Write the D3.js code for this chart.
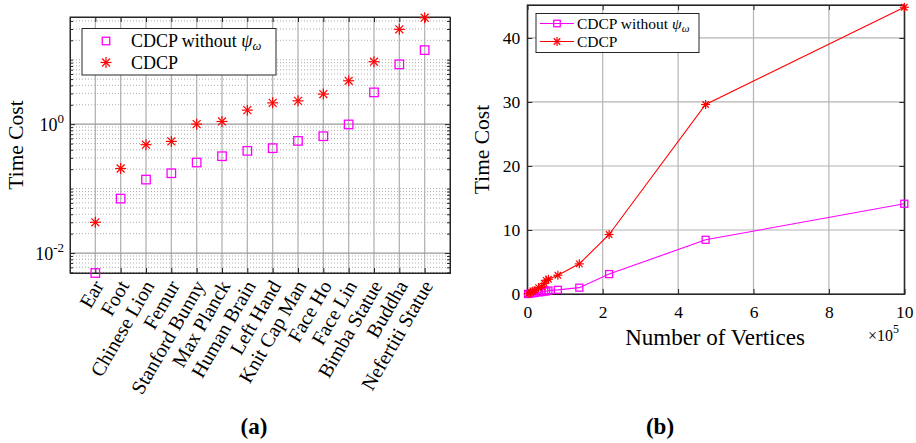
<!DOCTYPE html>
<html><head><meta charset="utf-8">
<script src="https://cdn.jsdelivr.net/npm/d3@7"></script>
<style>body{margin:0;background:#fff}svg{display:block}text{font-family:"Liberation Serif","DejaVu Serif",serif;fill:#000}</style>
</head><body><svg id="c" width="916" height="443"></svg>
<script>
const categories = ["Ear","Foot","Chinese Lion","Femur","Stanford Bunny","Max Planck","Human Brain","Left Hand","Knit Cap Man","Face Ho","Face Lin","Bimba Statue","Buddha","Nefertiti Statue"];
const cdcp = [0.030,0.205,0.48,0.54,1.0,1.10,1.65,2.14,2.30,2.93,4.71,9.3,29.6,44.8];
const cdcpNoPsi = [0.0049,0.070,0.138,0.173,0.254,0.318,0.385,0.424,0.55,0.65,0.99,3.11,8.47,14.1];
const vertices = [0.02,0.08,0.15,0.20,0.30,0.38,0.45,0.50,0.56,0.81,1.38,2.17,4.73,10.0]; // x 10^5
const leftYTicks = [0.01, 1];
const rightYTicks = [0,10,20,30,40];
const rightXTicks = [0,2,4,6,8,10];

const svg = d3.select("#c");
const AX = "#262626", GRID = "#b4b4b4";
const RED = "#ff0000", MAG = "#ff00ff";

function star(g, x, y, r, col){
  const p = g.append("g").attr("stroke", col).attr("stroke-width", 1.2);
  p.append("line").attr("x1",x-r).attr("x2",x+r).attr("y1",y).attr("y2",y);
  p.append("line").attr("x1",x).attr("x2",x).attr("y1",y-r).attr("y2",y+r);
  const d = r*0.72;
  p.append("line").attr("x1",x-d).attr("x2",x+d).attr("y1",y-d).attr("y2",y+d);
  p.append("line").attr("x1",x-d).attr("x2",x+d).attr("y1",y+d).attr("y2",y-d);
}
function square(g, x, y, s, col){
  g.append("rect").attr("x",x-s/2).attr("y",y-s/2).attr("width",s).attr("height",s)
   .attr("fill","none").attr("stroke",col).attr("stroke-width",1.3);
}

// ---------------- Left chart (a) ----------------
const L = {x0:70, x1:450, y0:17, y1:273};
const xL = d3.scaleLinear().domain([0, categories.length+1]).range([L.x0, L.x1]);
const yL = d3.scaleLog().domain([0.0049, 46]).range([L.y1, L.y0]);
const gL = svg.append("g");

const minorVals = [];
for (let k=-3;k<=1;k++) for (let m=1;m<=9;m++){ const v=m*Math.pow(10,k); if (v>=yL.domain()[0] && v<=yL.domain()[1] && !leftYTicks.includes(+v.toPrecision(6))) minorVals.push(v); }
gL.selectAll(".mg").data(minorVals).join("line")
  .attr("x1",L.x0).attr("x2",L.x1).attr("y1",d=>yL(d)).attr("y2",d=>yL(d))
  .attr("stroke","#999").attr("stroke-width",0.8).attr("stroke-dasharray","1,2");
gL.selectAll(".vg").data(categories).join("line")
  .attr("x1",(d,i)=>xL(i+1)).attr("x2",(d,i)=>xL(i+1)).attr("y1",L.y0).attr("y2",L.y1)
  .attr("stroke",GRID).attr("stroke-width",1.3);
gL.selectAll(".hg").data(leftYTicks).join("line")
  .attr("x1",L.x0).attr("x2",L.x1).attr("y1",d=>yL(d)).attr("y2",d=>yL(d))
  .attr("stroke","#9a9a9a").attr("stroke-width",1.3);

gL.append("g").attr("transform",`translate(${L.x0},0)`).call(d3.axisLeft(yL).tickValues(leftYTicks).tickSize(-5).tickFormat(""));
gL.append("g").attr("transform",`translate(${L.x0},0)`).call(d3.axisLeft(yL).tickValues(minorVals).tickSize(-3).tickFormat(""));
gL.append("g").attr("transform",`translate(${L.x1},0)`).call(d3.axisRight(yL).tickValues(leftYTicks).tickSize(-5).tickFormat(""));
gL.append("g").attr("transform",`translate(${L.x1},0)`).call(d3.axisRight(yL).tickValues(minorVals).tickSize(-3).tickFormat(""));
const catIdx = categories.map((d,i)=>i+1);
gL.append("g").attr("transform",`translate(0,${L.y1})`).call(d3.axisBottom(xL).tickValues(catIdx).tickSize(-5).tickFormat(""));
gL.append("g").attr("transform",`translate(0,${L.y0})`).call(d3.axisTop(xL).tickValues(catIdx).tickSize(-5).tickFormat(""));
gL.selectAll(".domain").attr("stroke",AX);
gL.selectAll(".tick line").attr("stroke",AX);
gL.append("rect").attr("x",L.x0).attr("y",L.y0).attr("width",L.x1-L.x0).attr("height",L.y1-L.y0)
  .attr("fill","none").attr("stroke",AX).attr("stroke-width",1);

leftYTicks.forEach(v=>{
  const t = gL.append("text").attr("x",L.x0-6).attr("y",yL(v)+6.5).attr("text-anchor","end").style("font-size","18px");
  t.append("tspan").text("10");
  t.append("tspan").attr("dy",-7.5).style("font-size","13px").text(Math.round(Math.log10(v)));
});
categories.forEach((c,i)=>{
  gL.append("text").attr("transform",`translate(${xL(i+1)+3},${L.y1+9}) rotate(-60)`)
    .attr("text-anchor","end").attr("dy","0.35em").style("font-size","20px").text(c);
});
gL.append("text").attr("transform",`translate(23,${(L.y0+L.y1)/2}) rotate(-90)`).attr("text-anchor","middle").style("font-size","21.5px").text("Time Cost");

cdcpNoPsi.forEach((v,i)=>square(gL, xL(i+1), yL(v), 8.5, MAG));
cdcp.forEach((v,i)=>star(gL, xL(i+1), yL(v), 5.5, RED));

const lgL = gL.append("g");
lgL.append("rect").attr("x",82).attr("y",28.5).attr("width",194).attr("height",46.5).attr("fill","#fff").attr("stroke",AX).attr("stroke-width",1);
square(lgL,106,41,7.5,MAG);
star(lgL,106,62.5,5.5,RED);
const tL1 = lgL.append("text").attr("x",131).attr("y",47).style("font-size","18px");
tL1.append("tspan").text("CDCP without ");
tL1.append("tspan").style("font-style","italic").text("ψ");
tL1.append("tspan").attr("dy",3).style("font-size","12.5px").style("font-style","italic").text("ω");
lgL.append("text").attr("x",131).attr("y",68.5).style("font-size","18px").text("CDCP");

// ---------------- Right chart (b) ----------------
const R = {x0:527.3, x1:904.3, y0:5, y1:294};
const xR = d3.scaleLinear().domain([0,10]).range([R.x0,R.x1]);
const yR = d3.scaleLinear().domain([0,45.15]).range([R.y1,R.y0]);
const gR = svg.append("g");
gR.selectAll(".gx").data(rightXTicks.slice(1,-1)).join("line")
  .attr("x1",d=>xR(d)).attr("x2",d=>xR(d)).attr("y1",R.y0).attr("y2",R.y1).attr("stroke",GRID).attr("stroke-width",1.2);
gR.selectAll(".gy").data(rightYTicks.slice(1)).join("line")
  .attr("x1",R.x0).attr("x2",R.x1).attr("y1",d=>yR(d)).attr("y2",d=>yR(d)).attr("stroke",GRID).attr("stroke-width",1.2);

gR.append("g").attr("transform",`translate(0,${R.y1})`).call(d3.axisBottom(xR).tickValues(rightXTicks).tickSize(-5).tickPadding(12).tickFormat(d3.format("d")));
gR.append("g").attr("transform",`translate(0,${R.y0})`).call(d3.axisTop(xR).tickValues(rightXTicks).tickSize(-5).tickFormat(""));
gR.append("g").attr("transform",`translate(${R.x0},0)`).call(d3.axisLeft(yR).tickValues(rightYTicks).tickSize(-5).tickPadding(7).tickFormat(d3.format("d")));
gR.append("g").attr("transform",`translate(${R.x1},0)`).call(d3.axisRight(yR).tickValues(rightYTicks).tickSize(-5).tickFormat(""));
gR.selectAll(".domain").attr("stroke",AX);
gR.selectAll(".tick line").attr("stroke",AX);
gR.selectAll(".tick text").style("font-family","Liberation Serif, serif").style("font-size","17.5px").attr("fill","#000");
gR.append("rect").attr("x",R.x0).attr("y",R.y0).attr("width",R.x1-R.x0).attr("height",R.y1-R.y0)
  .attr("fill","none").attr("stroke",AX).attr("stroke-width",1.2);

const order = d3.range(vertices.length).sort((a,b)=>vertices[a]-vertices[b]);
const lineNo = d3.line().x(i=>xR(vertices[i])).y(i=>yR(cdcpNoPsi[i]));
const lineC = d3.line().x(i=>xR(vertices[i])).y(i=>yR(cdcp[i]));
gR.append("path").attr("d",lineNo(order)).attr("fill","none").attr("stroke",MAG).attr("stroke-width",1.1);
gR.append("path").attr("d",lineC(order)).attr("fill","none").attr("stroke",RED).attr("stroke-width",1.1);
order.forEach(i=>square(gR, xR(vertices[i]), yR(cdcpNoPsi[i]), 7, MAG));
order.forEach(i=>star(gR, xR(vertices[i]), yR(cdcp[i]), 4.5, RED));

gR.append("text").attr("transform",`translate(489,${(R.y0+R.y1)/2}) rotate(-90)`).attr("text-anchor","middle").style("font-size","21.5px").text("Time Cost");
gR.append("text").attr("x",715).attr("y",345).attr("text-anchor","middle").style("font-size","23px").text("Number of Vertices");
const ex = gR.append("text").attr("x",868).attr("y",341).style("font-size","16px");
ex.append("tspan").text("×10");
ex.append("tspan").attr("dy",-8).style("font-size","12px").text("5");

const lgR = gR.append("g");
lgR.append("rect").attr("x",536).attr("y",13.5).attr("width",163).attr("height",39).attr("fill","#fff").attr("stroke",AX).attr("stroke-width",1);
lgR.append("line").attr("x1",540).attr("x2",574).attr("y1",23.5).attr("y2",23.5).attr("stroke",MAG).attr("stroke-width",1.1);
square(lgR,557,23.5,6.5,MAG);
lgR.append("line").attr("x1",540).attr("x2",574).attr("y1",41.5).attr("y2",41.5).attr("stroke",RED).attr("stroke-width",1.1);
star(lgR,557,41.5,4.5,RED);
const tR1 = lgR.append("text").attr("x",577).attr("y",28.5).style("font-size","15.5px");
tR1.append("tspan").text("CDCP without ");
tR1.append("tspan").style("font-style","italic").text("ψ");
tR1.append("tspan").attr("dy",3).style("font-size","11px").style("font-style","italic").text("ω");
lgR.append("text").attr("x",577).attr("y",46.5).style("font-size","15.5px").text("CDCP");

svg.append("text").attr("x",254).attr("y",434).attr("text-anchor","middle").style("font-size","23px").style("font-weight","bold").text("(a)");
svg.append("text").attr("x",660).attr("y",434).attr("text-anchor","middle").style("font-size","23px").style("font-weight","bold").text("(b)");
</script></body></html>
